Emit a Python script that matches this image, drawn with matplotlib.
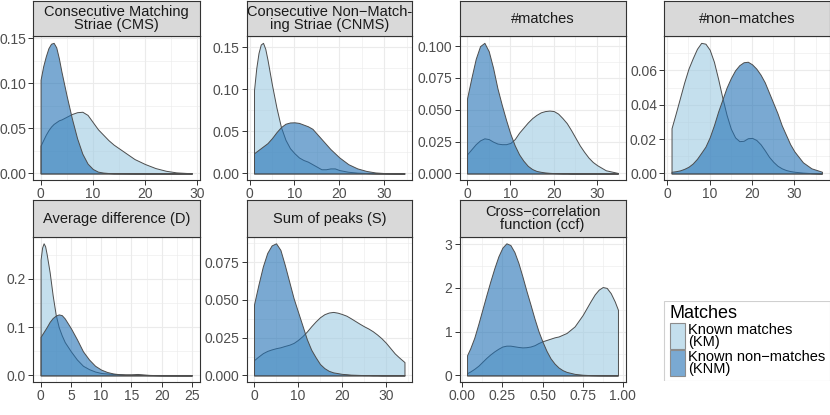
import matplotlib
matplotlib.use('Agg')
import matplotlib.pyplot as plt
from matplotlib.colors import to_rgba
from matplotlib.patches import Rectangle

plt.rcParams['font.family'] = ['Liberation Sans', 'DejaVu Sans']

# ---- data (density estimates) ----
# Consecutive Matching Striae
cms_x = [0, 0.5, 1, 1.5, 2, 2.5, 3, 3.5, 4, 5, 6, 7, 8, 9, 10, 11, 12, 13, 14, 16, 18, 20, 22, 24, 26, 29]
cms_km = [0.031, 0.037, 0.043, 0.048, 0.052, 0.055, 0.057, 0.059, 0.060, 0.063, 0.066, 0.068, 0.0685, 0.065,
          0.057, 0.049, 0.043, 0.037, 0.032, 0.024, 0.016, 0.0105, 0.006, 0.003, 0.0012, 0.0002]
cms_knm = [0.104, 0.119, 0.130, 0.139, 0.144, 0.145, 0.140, 0.128, 0.113, 0.086, 0.061, 0.039, 0.022, 0.011,
           0.005, 0.002, 0.001, 0.0005, 0.0002, 0.0001, 0, 0, 0, 0, 0, 0]

# Consecutive Non-Matching Striae
cnms_x = [1, 1.5, 2, 2.5, 3, 3.5, 4, 5, 6, 7, 8, 9, 10, 11, 12, 13, 14, 15, 16, 17, 18, 19, 20, 22, 24, 26, 28,
          30, 32, 34.5]
cnms_km = [0.099, 0.125, 0.143, 0.153, 0.155, 0.148, 0.135, 0.105, 0.078, 0.055, 0.040, 0.030, 0.024, 0.019,
           0.016, 0.014, 0.011, 0.008, 0.005, 0.005, 0.006, 0.006, 0.004, 0.002, 0.001, 0.0005, 0.0002, 0.0001,
           0, 0]
cnms_knm = [0.024, 0.026, 0.028, 0.030, 0.032, 0.034, 0.036, 0.042, 0.049, 0.055, 0.059, 0.0605, 0.0607, 0.060,
            0.058, 0.056, 0.053, 0.047, 0.041, 0.035, 0.029, 0.024, 0.019, 0.011, 0.006, 0.003, 0.0012, 0.0005,
            0.0002, 0]

# #matches
mat_x = [0, 1, 2, 3, 4, 5, 6, 7, 8, 9, 10, 11, 12, 13, 14, 15, 16, 17, 18, 19, 20, 21, 22, 23, 24, 25, 26, 27,
         28, 29, 30, 32, 34.8]
mat_km = [0.015, 0.019, 0.023, 0.026, 0.0276, 0.027, 0.025, 0.0235, 0.023, 0.023, 0.024, 0.027, 0.032, 0.036,
          0.040, 0.0434, 0.046, 0.048, 0.049, 0.0494, 0.049, 0.047, 0.0435, 0.0395, 0.034, 0.028, 0.022, 0.017,
          0.0125, 0.009, 0.0065, 0.0025, 0.0004]
mat_knm = [0.059, 0.075, 0.090, 0.100, 0.1026, 0.096, 0.083, 0.067, 0.054, 0.042, 0.031, 0.022, 0.015, 0.010,
           0.006, 0.0035, 0.002, 0.0013, 0.0008, 0.0005, 0.0003, 0.0002, 0.0001, 0.0001, 0, 0, 0, 0, 0, 0, 0, 0, 0]

# #non-matches
non_x = [1, 2, 3, 4, 5, 6, 7, 8, 9, 10, 11, 12, 13, 14, 15, 16, 17, 18, 19, 20, 21, 22, 23, 24, 25, 26, 27, 28,
         29, 30, 32, 34, 36.5]
non_km = [0.0263, 0.035, 0.044, 0.053, 0.061, 0.067, 0.0725, 0.076, 0.0755, 0.072, 0.065, 0.055, 0.044, 0.034,
          0.026, 0.021, 0.0188, 0.019, 0.0205, 0.0207, 0.0195, 0.017, 0.0135, 0.0097, 0.0068, 0.0045, 0.003,
          0.002, 0.0014, 0.001, 0.0005, 0.0002, 0]
non_knm = [0.001, 0.0013, 0.0018, 0.0027, 0.0039, 0.0058, 0.0085, 0.012, 0.0156, 0.021, 0.028, 0.036, 0.043,
           0.050, 0.0555, 0.060, 0.063, 0.0647, 0.065, 0.0635, 0.061, 0.0575, 0.053, 0.047, 0.041, 0.035, 0.028,
           0.0225, 0.017, 0.0128, 0.0065, 0.003, 0.001]

# Average difference (D)
avg_x = [0, 0.25, 0.5, 0.75, 1, 1.5, 2, 2.5, 3, 3.5, 4, 5, 6, 7, 8, 9, 10, 11, 12, 13, 14, 15, 16, 17, 18, 20,
         22, 25]
avg_km = [0.24, 0.265, 0.274, 0.268, 0.252, 0.214, 0.166, 0.126, 0.100, 0.083, 0.069, 0.050, 0.033, 0.020,
          0.013, 0.008, 0.005, 0.004, 0.003, 0.0025, 0.002, 0.0022, 0.003, 0.002, 0.001, 0.0003, 0.0001, 0]
avg_knm = [0.080, 0.085, 0.090, 0.095, 0.100, 0.111, 0.119, 0.124, 0.1265, 0.125, 0.118, 0.098, 0.075, 0.050,
           0.033, 0.020, 0.012, 0.007, 0.004, 0.0025, 0.0018, 0.0015, 0.0012, 0.0008, 0.0005, 0.0002, 0.0001, 0]

# Sum of peaks (S)
sum_x = [0, 1, 2, 3, 4, 5, 6, 7, 8, 9, 10, 11, 12, 13, 14, 15, 16, 17, 18, 19, 20, 21, 22, 23, 24, 25, 26, 27,
         28, 29, 30, 31, 32, 33, 34.2]
sum_km = [0.0101, 0.0125, 0.0147, 0.0162, 0.0172, 0.018, 0.0186, 0.0195, 0.0203, 0.0215, 0.0235, 0.026, 0.029,
          0.0325, 0.0357, 0.0385, 0.0405, 0.0416, 0.042, 0.0415, 0.0406, 0.0395, 0.0378, 0.036, 0.0342, 0.0325,
          0.031, 0.0292, 0.027, 0.0245, 0.0215, 0.018, 0.0145, 0.0118, 0.0088]
sum_knm = [0.047, 0.060, 0.072, 0.081, 0.086, 0.0874, 0.083, 0.073, 0.062, 0.051, 0.042, 0.033, 0.024, 0.017,
           0.012, 0.0075, 0.0048, 0.003, 0.002, 0.0015, 0.001, 0.0008, 0.0005, 0.0004, 0.0003, 0.0002, 0.0002,
           0.0001, 0.0001, 0, 0, 0, 0, 0, 0]

# Cross-correlation function (ccf)
ccf_x = [0.03, 0.05, 0.075, 0.1, 0.125, 0.15, 0.175, 0.2, 0.225, 0.25, 0.275, 0.3, 0.325, 0.35, 0.375, 0.4,
         0.425, 0.45, 0.475, 0.5, 0.525, 0.55, 0.575, 0.6, 0.625, 0.65, 0.7, 0.75, 0.8, 0.825, 0.85, 0.875, 0.9,
         0.925, 0.95, 0.97]
ccf_km = [0.05, 0.09, 0.15, 0.22, 0.31, 0.40, 0.48, 0.55, 0.61, 0.66, 0.68, 0.68, 0.665, 0.65, 0.64, 0.645,
          0.66, 0.69, 0.74, 0.78, 0.81, 0.84, 0.87, 0.89, 0.93, 0.97, 1.12, 1.38, 1.70, 1.85, 1.96, 2.02, 2.0,
          1.88, 1.69, 1.5]
ccf_knm = [0.46, 0.62, 0.86, 1.17, 1.50, 1.83, 2.15, 2.45, 2.72, 2.92, 3.02, 2.98, 2.82, 2.57, 2.26, 1.93, 1.62,
           1.30, 1.01, 0.77, 0.56, 0.39, 0.27, 0.18, 0.12, 0.08, 0.035, 0.015, 0.006, 0.004, 0.002, 0.001,
           0.0006, 0.0004, 0.0002, 0.0001]

titles = ['Consecutive Matching\nStriae (CMS)', 'Consecutive Non\u2212Match-\ning Striae (CNMS)',
          '#matches', '#non\u2212matches', 'Average difference (D)', 'Sum of peaks (S)',
          'Cross\u2212correlation\nfunction (ccf)']
yticks = [[0, 0.05, 0.10, 0.15], [0, 0.05, 0.10, 0.15], [0, 0.025, 0.05, 0.075, 0.10], [0, 0.02, 0.04, 0.06],
          [0, 0.1, 0.2], [0, 0.025, 0.05, 0.075], [0, 1, 2, 3]]
yfmt = ['%.2f', '%.2f', '%.3f', '%.2f', '%.1f', '%.3f', '%.0f']
xticks = [[0, 10, 20, 30], [0, 10, 20, 30], [0, 10, 20, 30], [0, 10, 20, 30], [0, 5, 10, 15, 20, 25],
          [0, 10, 20, 30], [0, 0.25, 0.5, 0.75, 1.0]]
xfmt = ['%d', '%d', '%d', '%d', '%d', '%d', '%.2f']
labels = ['Known matches\n(KM)', 'Known non\u2212matches\n(KNM)']

series = [(cms_x, cms_km, cms_knm), (cnms_x, cnms_km, cnms_knm), (mat_x, mat_km, mat_knm),
          (non_x, non_km, non_knm), (avg_x, avg_km, avg_knm), (sum_x, sum_km, sum_knm),
          (ccf_x, ccf_km, ccf_knm)]

KM_COL = to_rgba('#9ecae1', 0.6)
KNM_COL = to_rgba('#2171b5', 0.6)
EDGE = '#4d4d4d'

W, H = 830, 415
fig = plt.figure(figsize=(W / 100, H / 100), dpi=100)


def px_axes(x0, y0, x1, y1):
    return fig.add_axes([x0 / W, 1 - y1 / H, (x1 - x0) / W, (y1 - y0) / H])


cols = [(33, 199.5), (246.5, 412), (459.5, 625.5), (664, 829.5)]
rows = [(1, 36.3, 180), (200.5, 236.7, 382)]

for i, (x, km, knm) in enumerate(series):
    c0, c1 = cols[i % 4]
    s0, p0, p1 = rows[i // 4]
    ax = px_axes(c0, p0, c1, p1)
    ax.fill_between(x, km, facecolor=KM_COL, edgecolor=EDGE, lw=0.7)
    ax.fill_between(x, knm, facecolor=KNM_COL, edgecolor=EDGE, lw=0.7)

    xr = x[-1] - x[0]
    ax.set_xlim(x[0] - 0.05 * xr, x[-1] + 0.05 * xr)
    ymax = max(max(km), max(knm))
    ax.set_ylim(-0.05 * ymax, 1.05 * ymax)

    ax.set_xticks(xticks[i])
    ax.set_xticklabels([xfmt[i] % v for v in xticks[i]])
    ax.set_yticks(yticks[i])
    ax.set_yticklabels([yfmt[i] % v for v in yticks[i]])
    xt, yt = xticks[i], yticks[i]
    xm = [(a + b) / 2 for a, b in zip(xt[:-1], xt[1:])] + [xt[-1] + (xt[1] - xt[0]) / 2, xt[0] - (xt[1] - xt[0]) / 2]
    ym = [(a + b) / 2 for a, b in zip(yt[:-1], yt[1:])] + [yt[-1] + (yt[1] - yt[0]) / 2]
    lo, hi = ax.get_xlim()
    ax.set_xticks([v for v in xm if lo < v < hi], minor=True)
    lo, hi = ax.get_ylim()
    ax.set_yticks([v for v in ym if lo < v < hi], minor=True)

    ax.tick_params(which='major', length=3.5, width=0.7, color='#333333', labelcolor='#4d4d4d',
                   labelsize=10, pad=1.5)
    ax.tick_params(which='minor', length=0)
    ax.grid(which='major', color='#ebebeb', lw=0.8)
    ax.grid(which='minor', color='#ebebeb', lw=0.4)
    ax.set_axisbelow(True)
    for sp in ax.spines.values():
        sp.set_color('#333333')
        sp.set_linewidth(0.8)

    st = px_axes(c0, s0, c1, p0)
    st.set_facecolor('#d9d9d9')
    st.set_xticks([])
    st.set_yticks([])
    for sp in st.spines.values():
        sp.set_color('#333333')
        sp.set_linewidth(0.8)
    st.text(0.5, 0.5, titles[i], ha='center', va='center', fontsize=10.5, color='#1a1a1a',
            linespacing=0.95, transform=st.transAxes, clip_on=True)

# legend
lg = px_axes(663, 301, 830, 381)
lg.set_xlim(663, 830)
lg.set_ylim(381, 301)
lg.axis('off')
lg.add_patch(Rectangle((663.5, 301.5), 166, 79, facecolor='white', edgecolor='#d0d0d0', lw=0.8))
lg.text(669, 305, 'Matches', fontsize=13, va='top', ha='left', color='black')
for k, (col, lab) in enumerate(zip([KM_COL, KNM_COL], labels)):
    top = 323 + k * 27
    lg.add_patch(Rectangle((669.5, top), 15, 26, facecolor=col, edgecolor='#8c8c8c', lw=0.8))
    lg.text(688, top + 13, lab, fontsize=10.5, va='center', ha='left', linespacing=0.9, color='black')

fig.savefig('out.png', dpi=100)
